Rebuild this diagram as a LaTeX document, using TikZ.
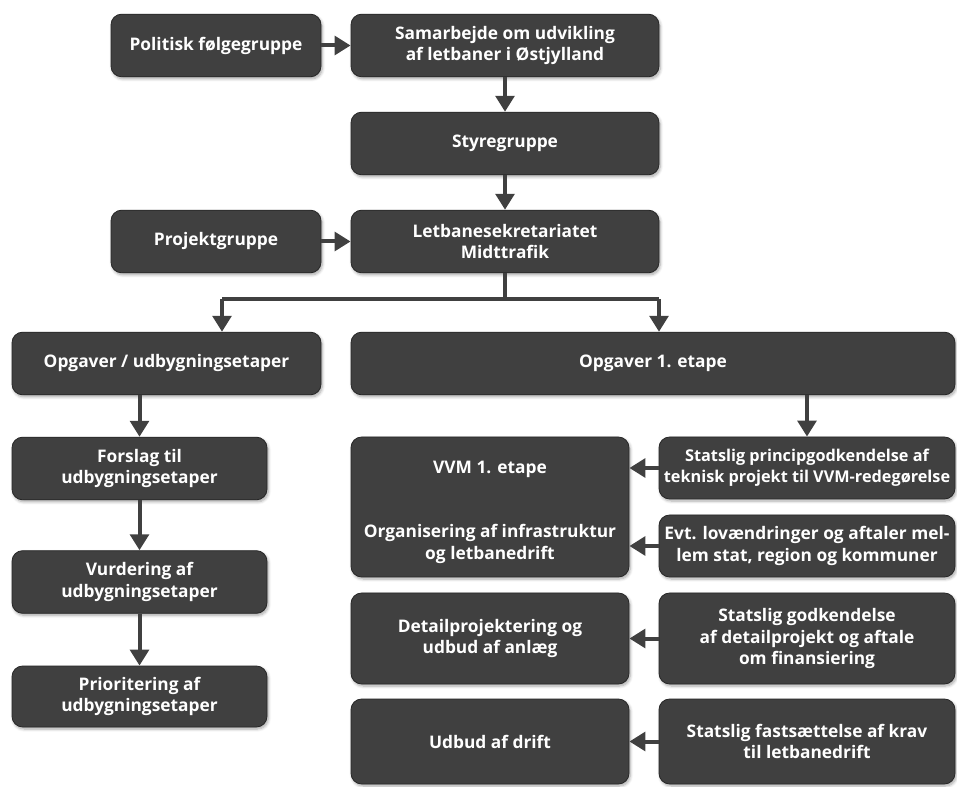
\documentclass[tikz,border=0pt]{standalone}
\usepackage{fontspec}
\setmainfont{Open Sans}
\usetikzlibrary{arrows.meta,shadows.blur}
\definecolor{boxgrey}{RGB}{64,64,64}
\definecolor{rimgrey}{RGB}{40,40,40}
\tikzset{
  orgbox/.style={draw=rimgrey, line width=0.6pt, fill=boxgrey, rounded corners=8pt,
    text=white, font=\fontsize{13}{16}\selectfont\bfseries, align=center,
    inner sep=0pt, minimum height=47pt,
    blur shadow={shadow xshift=1pt, shadow yshift=-1.5pt, shadow opacity=35, shadow blur steps=6}},
  orgtext/.style={text=white, font=\fontsize{13}{16}\selectfont\bfseries, align=center},
  link/.style={draw=boxgrey, line width=3pt, -{Triangle[width=14pt,length=12pt]}},
  plain link/.style={draw=boxgrey, line width=3pt}
}
\begin{document}
\begin{tikzpicture}[x=0.75pt,y=-0.75pt]
                \useasboundingbox (0,0) rectangle (957,787);
                
                % Drawing boxes top row
                \node [orgbox, minimum width=157.5pt] (polit) at (216,45.5) {Politisk følgegruppe};
                \node [orgbox, minimum width=231pt] (samarb) at (505,45.5) {Samarbejde om udvikling\\af letbaner i Østjylland};
                \node [orgbox, minimum width=231pt] (styre) at (505,143.5) {Styregruppe};
                \node [orgbox, minimum width=157.5pt] (projekt) at (216,241.5) {Projektgruppe};
                \node [orgbox, minimum width=231pt] (letbane) at (505,241.5) {Letbanesekretariatet\\Midttrafik};
                
                % Drawing boxes for the two branches
                \node [orgbox, minimum width=231.75pt] (opgudb) at (166.5,363.5) {Opgaver / udbygningsetaper};
                \node [orgbox, minimum width=453pt] (opgetape) at (653,363.5) {Opgaver 1. etape};
                
                % Drawing left column
                \node [orgbox, minimum width=191.25pt] (forslag) at (139.5,468.5) {Forslag til\\udbygningsetaper};
                \node [orgbox, minimum width=191.25pt] (vurd) at (139.5,582) {Vurdering af\\udbygningsetaper};
                \node [orgbox, minimum width=191.25pt, minimum height=45.75pt] (prior) at (139.5,696.5) {Prioritering af\\udbygningsetaper};
                
                % Drawing right column, left half
                \node [orgbox, minimum width=208.5pt, minimum height=105pt] (vvm) at (490,507) {};
                \node [orgtext] (vvmtxt) at (490,469) {VVM 1. etape};
                \node [orgtext] (orgtxt) at (490,544) {Organisering af infrastruktur\\og letbanedrift};
                \node [orgbox, minimum width=208.5pt, minimum height=68.25pt] (detail) at (490,638.5) {Detailprojektering og\\udbud af anlæg};
                \node [orgbox, minimum width=208.5pt, minimum height=63.75pt] (udbud) at (490,741.5) {Udbud af drift};
                
                % Drawing right column, right half
                \node [orgbox, minimum width=222pt, minimum height=46.5pt, font=\fontsize{12.2}{16}\selectfont\bfseries] (princip) at (807,468) {Statslig principgodkendelse af\\teknisk projekt til VVM-redegørelse};
                \node [orgbox, minimum width=222pt, minimum height=46.5pt] (evt) at (807,546) {Evt. lovændringer og aftaler mel-\\lem stat, region og kommuner};
                \node [orgbox, minimum width=222pt, minimum height=68.25pt] (godk) at (807,638.5) {Statslig godkendelse\\af detailprojekt og aftale\\om finansiering};
                \node [orgbox, minimum width=222pt, minimum height=63.75pt] (fast) at (807,741.5) {Statslig fastsættelse af krav\\til letbanedrift};
                
                % Drawing connectors top
                \draw [link] (polit) -- (samarb);
                \draw [link] (samarb) -- (styre);
                \draw [link] (styre) -- (letbane);
                \draw [link] (projekt) -- (letbane);
                
                % Drawing the split below the secretariat
                \coordinate (split) at (505,299);
                \coordinate (splitl) at (222,299);
                \coordinate (splitr) at (659,299);
                \draw [plain link] (letbane.south) -- (split);
                \draw [plain link] (splitl) -- (splitr);
                \draw [link] (splitl) -- (splitl |- opgudb.north);
                \draw [link] (splitr) -- (splitr |- opgetape.north);
                
                % Drawing connectors left column
                \draw [link] (opgudb.south -| forslag) -- (forslag);
                \draw [link] (forslag) -- (vurd);
                \draw [link] (vurd) -- (prior);
                
                % Drawing connectors right column
                \draw [link] (opgetape.south -| princip) -- (princip);
                \draw [link] (princip) -- (princip -| vvm.east);
                \draw [link] (evt) -- (evt -| vvm.east);
                \draw [link] (godk) -- (detail);
                \draw [link] (fast) -- (udbud);
\end{tikzpicture}
\end{document}
